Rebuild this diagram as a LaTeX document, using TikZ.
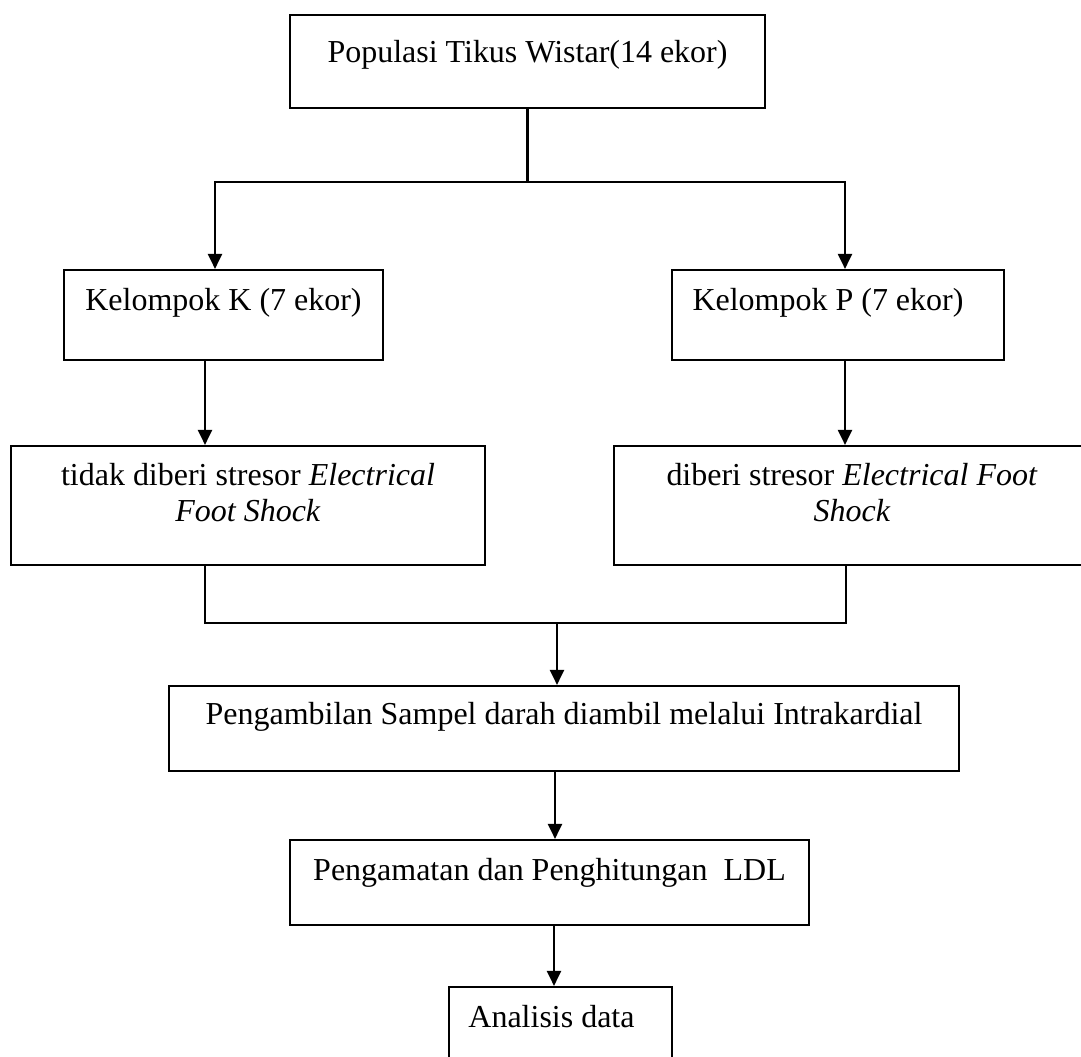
\documentclass[tikz,border=0pt]{standalone}
\usepackage{fontspec}
\setmainfont{Liberation Serif}
\usetikzlibrary{arrows.meta}

\begin{document}
\begin{tikzpicture}[
    box/.style={draw, line width=1.2pt, inner sep=0pt, align=center},
    arr/.style={-{Triangle[length=0.3cm,width=0.28cm]}},
    font=\fontsize{18.2}{21}\selectfont,
    line width=1.2pt
  ]

  \useasboundingbox (0,0) rectangle (21.62,21.14);

  % boxes, placed at their centres
  \node[box, minimum width=9.5cm, text height=0.96cm, text depth=0.9cm] (pop) at (10.55,19.91) {Populasi Tikus Wistar(14 ekor)};
  \node[box, minimum width=6.38cm, text height=0.82cm, text depth=0.98cm] (kelK) at (4.47,14.84) {Kelompok K (7 ekor)};
  \node[box, minimum width=6.64cm, text height=0.82cm, text depth=0.98cm] (kelP) at (16.76,14.84) {Kelompok P (7 ekor)\hspace*{0.4cm}};
  \node[box, minimum width=9.48cm, text height=1.52cm, text depth=0.86cm] (tidak) at (4.96,11.03) {tidak diberi stresor \textit{Electrical}\\\textit{Foot Shock}};
  \node[box, minimum width=9.52cm, text height=1.52cm, text depth=0.86cm] (diberi) at (17.04,11.03) {diberi stresor \textit{Electrical Foot}\\\textit{Shock}};
  \node[box, minimum width=15.8cm, text height=0.78cm, text depth=0.92cm] (ambil) at (11.28,6.57) {Pengambilan Sampel darah diambil melalui Intrakardial};
  \node[box, minimum width=10.38cm, text height=0.82cm, text depth=0.88cm] (amat) at (10.99,3.49) {Pengamatan dan Penghitungan \ LDL};
  \node[box, minimum width=4.46cm, text height=0.82cm, text depth=1.0cm] (anal) at (11.21,0.49) {Analisis data\hspace*{0.36cm}};

  \coordinate (split) at (10.55,17.5);
  \coordinate (join) at (11.14,8.68);

  % connectors
  \draw (pop.south) -- (split);
  \draw[arr] (split) -| ([xshift=-0.17cm]kelK.north);
  \draw[arr] (split) -| ([xshift=0.14cm]kelP.north);
  \draw[arr] ([xshift=-0.37cm]kelK.south) -- ([xshift=-0.37cm]kelK.south |- tidak.north);
  \draw[arr] ([xshift=0.14cm]kelP.south) -- ([xshift=0.14cm]kelP.south |- diberi.north);
  \draw ([xshift=-0.86cm]tidak.south) |- (join) -| ([xshift=-0.12cm]diberi.south);
  \draw[arr] (join) -- (join |- ambil.north);
  \draw[arr] ([xshift=-0.18cm]ambil.south) -- ([xshift=-0.18cm]ambil.south |- amat.north);
  \draw[arr] ([xshift=0.09cm]amat.south) -- ([xshift=0.09cm]amat.south |- anal.north);

\end{tikzpicture}
\end{document}
